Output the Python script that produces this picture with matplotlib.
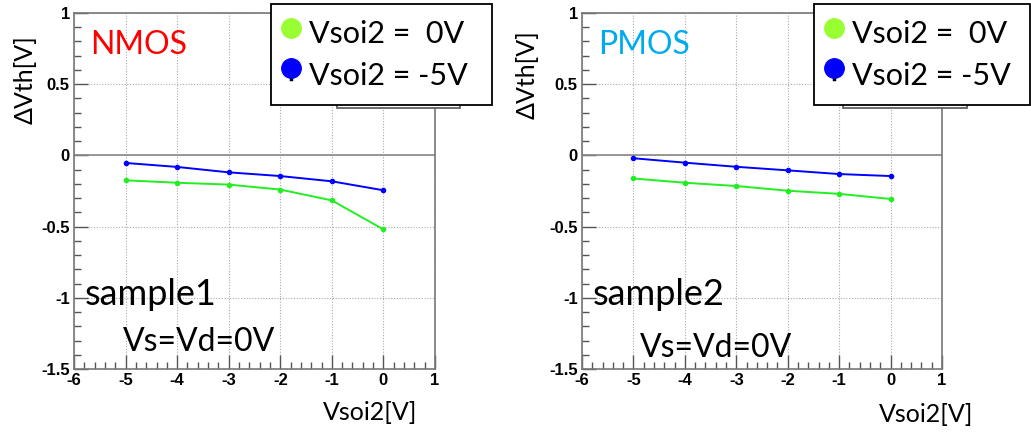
import matplotlib
matplotlib.use('Agg')
import matplotlib.pyplot as plt
from matplotlib.lines import Line2D
from matplotlib.patches import Rectangle
from matplotlib.ticker import MultipleLocator

W, H = 1031, 434

vsoi2 = [-5, -4, -3, -2, -1, 0]

# sample1 (NMOS)
nmos_0v = [-0.175, -0.192, -0.205, -0.240, -0.316, -0.520]
nmos_m5v = [-0.053, -0.081, -0.119, -0.145, -0.182, -0.245]

# sample2 (PMOS)
pmos_0v = [-0.162, -0.192, -0.215, -0.248, -0.270, -0.306]
pmos_m5v = [-0.020, -0.051, -0.080, -0.105, -0.131, -0.145]

xticks = [-6, -5, -4, -3, -2, -1, 0, 1]
yticks = [-1.5, -1, -0.5, 0, 0.5, 1]
ytick_labels = ['-1.5', '-1', '-0.5', '0', '0.5', '1']
legend_labels = ['Vsoi2 =  0V', 'Vsoi2 = -5V']

GREEN = '#22ee22'
BLUE = '#0000ff'
FONT = ['Lato', 'DejaVu Sans']


def fx(x):
    return x / W


def fy(y):
    return 1 - y / H


fig = plt.figure(figsize=(W / 100, H / 100), dpi=100)


def panel(x0, x1, green, blue, title, title_color, sample, vs_pos):
    ax = fig.add_axes([fx(x0), fy(369), fx(x1 - x0), (369 - 13) / H])
    ax.set_xlim(-6, 1)
    ax.set_ylim(-1.5, 1)
    tick_font = dict(fontfamily='Liberation Sans', fontweight='bold', fontsize=12)
    ax.set_xticks(xticks)
    ax.set_xticklabels([str(t) for t in xticks], **tick_font)
    ax.set_yticks(yticks)
    ax.set_yticklabels(ytick_labels, **tick_font)
    ax.xaxis.set_minor_locator(MultipleLocator(0.2))
    ax.yaxis.set_minor_locator(MultipleLocator(0.1))
    ax.tick_params(which='both', direction='in', top=False, right=False,
                   color='#555555', width=1)
    ax.tick_params(which='major', length=10, pad=3)
    ax.tick_params(which='minor', length=5)
    for s in ax.spines.values():
        s.set_color('#777777')
        s.set_linewidth(1.2)
    ax.grid(True, which='major', color='#aaaaaa', linestyle=(0, (1, 1.5)), linewidth=0.8)
    ax.axhline(0, color='#888888', linewidth=1.2)

    ax.plot(vsoi2, green, color=GREEN, lw=1.4, marker='o', ms=3)
    ax.plot(vsoi2, blue, color=BLUE, lw=1.4, marker='o', ms=3)

    ax.text(0.045, 0.91, title, transform=ax.transAxes, color=title_color,
            fontsize=23, family=FONT, ha='left', va='center')
    ax.text(0.03, 0.21, sample, transform=ax.transAxes, color='black',
            fontsize=26, family=FONT, ha='left', va='center')
    ax.text(vs_pos[0], vs_pos[1], 'Vs=Vd=0V', transform=ax.transAxes, color='black',
            fontsize=23, family=FONT, ha='left', va='center')
    return ax


panel(74, 435, nmos_0v, nmos_m5v, 'NMOS', '#ff0000', 'sample1', (0.135, 0.075))
panel(582, 942, pmos_0v, pmos_m5v, 'PMOS', '#00aaee', 'sample2', (0.16, 0.06))

# axis titles
fig.text(fx(417), fy(413), 'Vsoi2[V]', ha='right', va='center', fontsize=18, family=FONT)
fig.text(fx(973), fy(415), 'Vsoi2[V]', ha='right', va='center', fontsize=18, family=FONT)
fig.text(fx(25), fy(35), '\u0394Vth[V]', ha='center', va='top', rotation=90,
         fontsize=18, family=FONT)
fig.text(fx(527), fy(30), '\u0394Vth[V]', ha='center', va='top', rotation=90,
         fontsize=18, family=FONT)


def legend_box(x0, x1, bx0, bx1):
    # old legend peeking from behind
    fig.add_artist(Rectangle((fx(bx0), fy(108)), fx(bx1 - bx0), 60 / H,
                             transform=fig.transFigure, facecolor='white',
                             edgecolor='#555555', lw=1.2, zorder=5))
    fig.add_artist(Rectangle((fx(x0), fy(105)), fx(x1 - x0), 101 / H,
                             transform=fig.transFigure, facecolor='white',
                             edgecolor='black', lw=1.3, zorder=6))
    mx = x0 + 20
    fig.add_artist(Line2D([fx(mx), fx(mx)], [fy(70), fy(79)], transform=fig.transFigure,
                          color='black', lw=2.5, zorder=7))
    fig.add_artist(Line2D([fx(mx)], [fy(28)], transform=fig.transFigure,
                          marker='o', ms=14, color='#99ff33', ls='none', zorder=7))
    fig.add_artist(Line2D([fx(mx)], [fy(68)], transform=fig.transFigure,
                          marker='o', ms=14, color='#0000ff', ls='none', zorder=7))
    fig.text(fx(x0 + 38), fy(34), legend_labels[0], ha='left', va='center',
             fontsize=22, family=FONT, zorder=8)
    fig.text(fx(x0 + 38), fy(76), legend_labels[1], ha='left', va='center',
             fontsize=22, family=FONT, zorder=8)


legend_box(271, 492, 337, 460)
legend_box(814, 1030, 843, 967)

fig.savefig('out.png', dpi=100)
